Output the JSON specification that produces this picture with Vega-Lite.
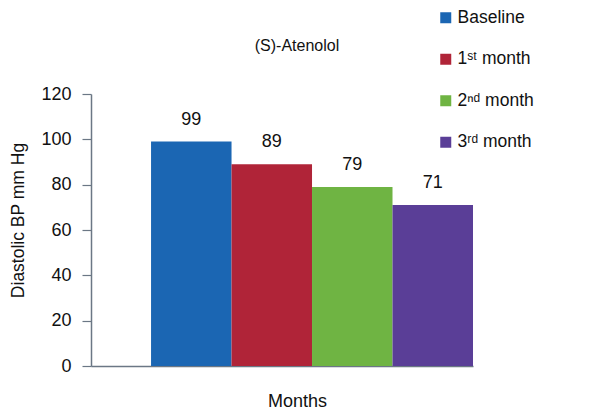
{
  "$schema": "https://vega.github.io/schema/vega-lite/v6.json",
  "autosize": {"type": "none"},
  "width": 382,
  "height": 272,
  "padding": {"left": 91, "top": 94, "right": 138, "bottom": 49},
  "background": "white",
  "title": {
    "text": "(S)-Atenolol",
    "anchor": "middle",
    "dx": 15,
    "dy": 53,
    "offset": 0,
    "baseline": "middle",
    "font": "Liberation Sans",
    "fontSize": 16,
    "fontWeight": "normal",
    "color": "#111111"
  },
  "data": {
    "values": [
      {"period": "Baseline", "dbp": 99},
      {"period": "1ˢᵗ month", "dbp": 89},
      {"period": "2ⁿᵈ month", "dbp": 79},
      {"period": "3ʳᵈ month", "dbp": 71}
    ]
  },
  "encoding": {
    "x": {
      "field": "period",
      "type": "nominal",
      "sort": null,
      "scale": {"paddingInner": 0, "paddingOuter": 0.373, "align": 1},
      "axis": {
        "title": "Months",
        "labels": false,
        "ticks": false,
        "domainColor": "#6b7785",
        "domainWidth": 1.5,
        "titleFont": "Liberation Sans",
        "titleFontSize": 18,
        "titleFontWeight": "normal",
        "titleColor": "#111111",
        "titlePadding": 26,
        "titleX": 206
      }
    },
    "y": {
      "field": "dbp",
      "type": "quantitative",
      "scale": {"domain": [0, 120]},
      "axis": {
        "title": "Diastolic BP mm Hg",
        "values": [0, 20, 40, 60, 80, 100, 120],
        "grid": false,
        "domainColor": "#6b7785",
        "domainWidth": 1.5,
        "tickColor": "#6b7785",
        "tickSize": 9,
        "tickWidth": 1.2,
        "labelPadding": 11,
        "labelFont": "Liberation Sans",
        "labelFontSize": 18,
        "labelColor": "#111111",
        "titleFont": "Liberation Sans",
        "titleFontSize": 17.5,
        "titleFontWeight": "normal",
        "titleColor": "#111111",
        "titlePadding": 13,
        "titleY": 126
      }
    }
  },
  "layer": [
    {
      "mark": {"type": "bar"},
      "encoding": {
        "color": {
          "field": "period",
          "type": "nominal",
          "sort": null,
          "scale": {"range": ["#1b66b3", "#b02438", "#6fb443", "#5a3e97"]},
          "legend": {
            "title": null,
            "orient": "none",
            "legendX": 346,
            "legendY": -85,
            "symbolType": "square",
            "symbolSize": 121,
            "symbolStrokeWidth": 0,
            "labelFont": "Liberation Sans",
            "labelFontSize": 17.5,
            "labelColor": "#111111",
            "labelOffset": 3,
            "rowPadding": 22.5
          }
        }
      }
    },
    {
      "mark": {
        "type": "text",
        "baseline": "alphabetic",
        "dy": -17,
        "font": "Liberation Sans",
        "fontSize": 18,
        "color": "#111111"
      },
      "encoding": {"text": {"field": "dbp", "type": "quantitative"}}
    }
  ],
  "config": {"view": {"stroke": null}}
}
